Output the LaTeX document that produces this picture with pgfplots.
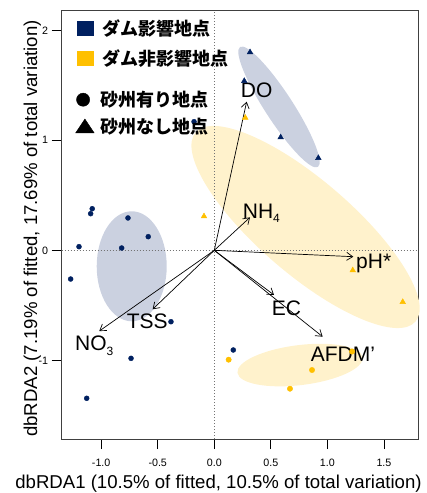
\documentclass[border=0pt]{standalone}
\usepackage{fontspec}
\setmainfont{Liberation Sans}
\newfontfamily\cjk{Noto Sans CJK JP}
\usepackage{pgfplots}
\pgfplotsset{compat=1.18}
\usetikzlibrary{arrows.meta}
\definecolor{navy}{HTML}{002060}
\definecolor{gold}{HTML}{FFC000}
\definecolor{navyfill}{HTML}{CBD1E0}
\definecolor{goldfill}{HTML}{FFF2CC}
\begin{document}
\begin{tikzpicture}
\begin{axis}[
  scale only axis, width=356.3bp, height=428.3bp,
  at={(0,0)}, anchor=south west,
  xmin=-1.349, xmax=1.801, ymin=-1.715, ymax=2.178,
  axis lines=box,
  axis line style={black!75, line width=0.9bp},
  xtick={-1,-0.5,0,0.5,1,1.5},
  xticklabels={-1.0,-0.5,0.0,0.5,1.0,1.5},
  ytick={-1,0,1,2},
  yticklabels={-1,0,1,2},
  tick align=outside, major tick length=10bp,
  xtick pos=bottom, ytick pos=left,
  tick style={black, line width=0.8bp},
  ticklabel style={font=\fontsize{10.7bp}{12bp}\selectfont},
  xticklabel style={yshift=-6.5bp},
  xlabel={dbRDA1 (10.5\% of fitted, 10.5\% of total variation)},
  ylabel={dbRDA2 (7.19\% of fitted, 17.69\% of total variation)},
  label style={font=\fontsize{18.6bp}{20bp}\selectfont},
  xlabel style={at={(axis description cs:0.4401,0)}, anchor=base, yshift=-49.3bp},
  ylabel style={at={(axis description cs:-0.0693,0.4915)}, anchor=base, rotate=0},
  clip=false,
  arr/.style={black, line width=0.7bp, -{Straight Barb[length=6bp,width=8bp]}},
  refl/.style={black!55, dash pattern=on 1.5bp off 1.5bp, line width=0.9bp},
]
% ellipses
\fill[goldfill, rotate around={-40.7:(axis cs:0.807,0.212)}] (axis cs:0.807,0.212) ellipse [x radius=145bp, y radius=47bp];
\fill[goldfill, rotate around={7:(axis cs:0.758,-1.043)}] (axis cs:0.758,-1.043) ellipse [x radius=63bp, y radius=20bp];
\fill[navyfill, rotate around={-57:(axis cs:0.572,1.303)}] (axis cs:0.572,1.303) ellipse [x radius=71.5bp, y radius=14bp];
\fill[navyfill] (axis cs:-0.730,-0.145) ellipse [x radius=35bp, y radius=55bp];
% reference lines
\addplot[refl] coordinates {(-1.349,0) (1.801,0)};
\addplot[refl] coordinates {(0,-1.715) (0,2.178)};
% points
\addplot[only marks, mark=*, mark size=2.5bp, navy] coordinates {
(-1.079,0.378) (-1.093,0.333) (-0.763,0.294) (-0.584,0.124) (-1.196,0.033) (-0.819,0.021)
(-1.27,-0.261) (-0.383,-0.649) (-0.736,-0.982) (-1.128,-1.345) (-0.179,1.169) (0.168,-0.906)};
\addplot[only marks, mark=triangle*, mark size=3.3bp, navy] coordinates {
(0.316,1.80) (0.265,1.539) (0.587,1.027) (0.92,0.839)};
\addplot[only marks, mark=triangle*, mark size=3.3bp, gold] coordinates {
(0.274,1.205) (-0.091,0.309) (1.224,-0.182) (1.666,-0.47)};
\addplot[only marks, mark=*, mark size=2.7bp, gold] coordinates {
(0.127,-0.994) (0.864,-1.088) (0.669,-1.258) (1.218,-0.92)};
% arrows
\addplot[arr] coordinates {(0,0) (0.286,1.351)};
\addplot[arr] coordinates {(0,0) (0.316,0.300)};
\addplot[arr] coordinates {(0,0) (1.229,-0.058)};
\addplot[arr] coordinates {(0,0) (0.528,-0.406)};
\addplot[arr] coordinates {(0,0) (0.958,-0.785)};
\addplot[arr] coordinates {(0,0) (-0.545,-0.536)};
\addplot[arr] coordinates {(0,0) (-1.017,-0.734)};
% labels
\begin{scope}[every node/.style={inner sep=0, font=\fontsize{21bp}{21bp}\selectfont}]
\node[anchor=center] at (axis cs:0.375,1.457) {DO};
\node[anchor=base west] at (axis cs:0.251,0.291) {NH\raisebox{-4.3bp}{\fontsize{12bp}{12bp}\selectfont 4}};
\node[anchor=base west] at (axis cs:1.253,-0.164) {pH*};
\node[anchor=base west] at (axis cs:0.508,-0.588) {EC};
\node[anchor=base west] at (axis cs:0.852,-1.013) {AFDM\char"0027};
\node[anchor=base west] at (axis cs:-0.775,-0.715) {TSS};
\node[anchor=base west] at (axis cs:-1.232,-0.913) {NO\raisebox{-4.3bp}{\fontsize{12bp}{12bp}\selectfont 3}};
\end{scope}
\end{axis}
% legend 1
\begin{axis}[
  hide axis, scale only axis, width=356.3bp, height=428.3bp,
  at={(0,0)}, anchor=south west, xmin=0, xmax=1, ymin=0, ymax=1,
  legend style={at={(axis description cs:0.041,0.9783)}, anchor=north west, draw=none, fill=none,
    inner sep=0, row sep=14.3bp, column sep=8.7bp,
    font=\cjk\bfseries\fontsize{18bp}{20bp}\selectfont,
    nodes={inner sep=0, text height=15bp, text depth=1bp}},
  legend cell align=left,
]
\addlegendimage{legend image code/.code={\fill[navy] (0bp,-7.2bp) rectangle (16.7bp,7.2bp);}}
\addlegendentry{ダム影響地点}
\addlegendimage{legend image code/.code={\fill[gold] (0bp,-7.2bp) rectangle (16.7bp,7.2bp);}}
\addlegendentry{ダム非影響地点}
\end{axis}
% legend 2
\begin{axis}[
  hide axis, scale only axis, width=356.3bp, height=428.3bp,
  at={(0,0)}, anchor=south west, xmin=0, xmax=1, ymin=0, ymax=1,
  legend style={at={(axis description cs:0.0382,0.8113)}, anchor=north west, draw=none, fill=none,
    inner sep=0, row sep=10.3bp, column sep=6.3bp,
    font=\cjk\bfseries\fontsize{18bp}{20bp}\selectfont,
    nodes={inner sep=0, text height=15bp, text depth=1bp}},
  legend cell align=left,
]
\addlegendimage{legend image code/.code={\fill[black] (7.4bp,0bp) circle (6.6bp);}}
\addlegendentry{砂州有り地点}
\addlegendimage{legend image code/.code={\fill[black] (0bp,-6.8bp) -- (18.4bp,-6.8bp) -- (9.2bp,7bp) -- cycle;}}
\addlegendentry{砂州なし地点}
\end{axis}
\pgfresetboundingbox
\useasboundingbox (-61.7bp,-54bp) rectangle (365.3bp,439bp);
\end{tikzpicture}
\end{document}
